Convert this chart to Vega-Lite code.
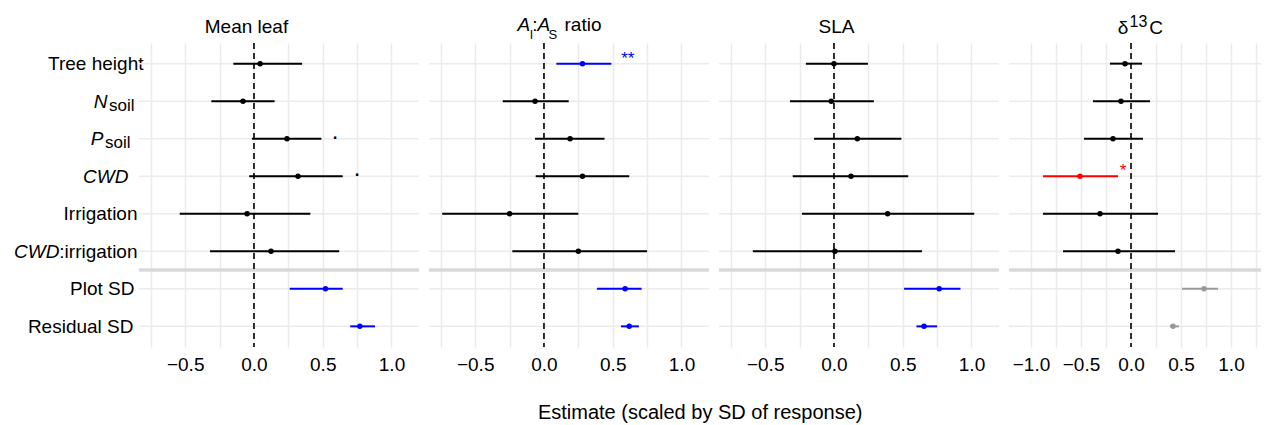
{
  "$schema": "https://vega.github.io/schema/vega-lite/v6.json",
  "padding": {"left": 13, "top": 13, "right": 2, "bottom": 2},
  "config": {"view": {"stroke": null}, "font": "Liberation Sans"},
  "title": {"text": "Estimate (scaled by SD of response)", "orient": "bottom", "anchor": "middle", "fontSize": 20, "fontWeight": "normal", "color": "black", "font": "Liberation Sans", "offset": 29, "dx": 62},
  "datasets": {
    "est": [
      {"panel": "Mean leaf", "term": "Tree height", "pos": 1, "est": 0.045, "lo": -0.15, "hi": 0.35, "sig": "none"},
      {"panel": "Mean leaf", "term": "N soil", "pos": 2, "est": -0.08, "lo": -0.31, "hi": 0.15, "sig": "none"},
      {"panel": "Mean leaf", "term": "P soil", "pos": 3, "est": 0.24, "lo": -0.015, "hi": 0.49, "sig": "none"},
      {"panel": "Mean leaf", "term": "CWD", "pos": 4, "est": 0.32, "lo": -0.035, "hi": 0.645, "sig": "none"},
      {"panel": "Mean leaf", "term": "Irrigation", "pos": 5, "est": -0.05, "lo": -0.54, "hi": 0.41, "sig": "none"},
      {"panel": "Mean leaf", "term": "CWD:irrigation", "pos": 6, "est": 0.124, "lo": -0.32, "hi": 0.62, "sig": "none"},
      {"panel": "Mean leaf", "term": "Plot SD", "pos": 7, "est": 0.52, "lo": 0.26, "hi": 0.645, "sig": "pos"},
      {"panel": "Mean leaf", "term": "Residual SD", "pos": 8, "est": 0.77, "lo": 0.70, "hi": 0.88, "sig": "pos"},
      {"panel": "AlAs", "term": "Tree height", "pos": 1, "est": 0.28, "lo": 0.09, "hi": 0.49, "sig": "pos"},
      {"panel": "AlAs", "term": "N soil", "pos": 2, "est": -0.065, "lo": -0.30, "hi": 0.18, "sig": "none"},
      {"panel": "AlAs", "term": "P soil", "pos": 3, "est": 0.19, "lo": -0.065, "hi": 0.44, "sig": "none"},
      {"panel": "AlAs", "term": "CWD", "pos": 4, "est": 0.28, "lo": -0.06, "hi": 0.62, "sig": "none"},
      {"panel": "AlAs", "term": "Irrigation", "pos": 5, "est": -0.25, "lo": -0.74, "hi": 0.25, "sig": "none"},
      {"panel": "AlAs", "term": "CWD:irrigation", "pos": 6, "est": 0.25, "lo": -0.23, "hi": 0.75, "sig": "none"},
      {"panel": "AlAs", "term": "Plot SD", "pos": 7, "est": 0.59, "lo": 0.385, "hi": 0.71, "sig": "pos"},
      {"panel": "AlAs", "term": "Residual SD", "pos": 8, "est": 0.62, "lo": 0.56, "hi": 0.69, "sig": "pos"},
      {"panel": "SLA", "term": "Tree height", "pos": 1, "est": 0.0, "lo": -0.204, "hi": 0.247, "sig": "none"},
      {"panel": "SLA", "term": "N soil", "pos": 2, "est": -0.02, "lo": -0.32, "hi": 0.29, "sig": "none"},
      {"panel": "SLA", "term": "P soil", "pos": 3, "est": 0.17, "lo": -0.145, "hi": 0.49, "sig": "none"},
      {"panel": "SLA", "term": "CWD", "pos": 4, "est": 0.124, "lo": -0.30, "hi": 0.54, "sig": "none"},
      {"panel": "SLA", "term": "Irrigation", "pos": 5, "est": 0.39, "lo": -0.233, "hi": 1.02, "sig": "none"},
      {"panel": "SLA", "term": "CWD:irrigation", "pos": 6, "est": 0.007, "lo": -0.59, "hi": 0.64, "sig": "none"},
      {"panel": "SLA", "term": "Plot SD", "pos": 7, "est": 0.765, "lo": 0.51, "hi": 0.92, "sig": "pos"},
      {"panel": "SLA", "term": "Residual SD", "pos": 8, "est": 0.655, "lo": 0.60, "hi": 0.75, "sig": "pos"},
      {"panel": "d13C", "term": "Tree height", "pos": 1, "est": -0.06, "lo": -0.21, "hi": 0.11, "sig": "none"},
      {"panel": "d13C", "term": "N soil", "pos": 2, "est": -0.10, "lo": -0.38, "hi": 0.19, "sig": "none"},
      {"panel": "d13C", "term": "P soil", "pos": 3, "est": -0.18, "lo": -0.47, "hi": 0.12, "sig": "none"},
      {"panel": "d13C", "term": "CWD", "pos": 4, "est": -0.51, "lo": -0.88, "hi": -0.13, "sig": "neg"},
      {"panel": "d13C", "term": "Irrigation", "pos": 5, "est": -0.31, "lo": -0.88, "hi": 0.27, "sig": "none"},
      {"panel": "d13C", "term": "CWD:irrigation", "pos": 6, "est": -0.13, "lo": -0.68, "hi": 0.44, "sig": "none"},
      {"panel": "d13C", "term": "Plot SD", "pos": 7, "est": 0.73, "lo": 0.51, "hi": 0.87, "sig": "na"},
      {"panel": "d13C", "term": "Residual SD", "pos": 8, "est": 0.42, "lo": 0.39, "hi": 0.48, "sig": "na"}
    ],
    "markers": [
      {"panel": "Mean leaf", "pos": 3, "mx": 0.59, "label": ".", "sig": "none"},
      {"panel": "Mean leaf", "pos": 4, "mx": 0.75, "label": ".", "sig": "none"},
      {"panel": "AlAs", "pos": 1, "mx": 0.61, "label": "**", "sig": "pos"},
      {"panel": "d13C", "pos": 4, "mx": -0.08, "label": "*", "sig": "neg"}
    ]
  },
  "bounds": "full",
  "spacing": 6,
  "hconcat": [
    {
      "width": 280, "height": 304,
      "resolve": {"axis": {"x": "independent", "y": "independent"}},
      "layer": [
        {"data": {"name": "est"}, "transform": [{"filter": "datum.panel == 'Mean leaf'"}],
         "mark": {"type": "rule", "color": "#EBEBEB", "strokeWidth": 1.5},
         "encoding": {"y": {"field": "pos", "type": "quantitative", "scale": {"domain": [0.45, 8.55], "reverse": true, "nice": false, "zero": false},
           "axis": {"orient": "left", "values": [1, 2, 2.001, 3, 3.001, 4, 5, 6, 6.001, 7, 8], "title": null, "grid": false, "ticks": false, "tickSize": 0, "domain": false,
             "labelFont": "Liberation Sans", "labelColor": "black", "labelAlign": "right", "labelBaseline": "middle", "labelOverlap": false, "labelBound": false, "labelFlush": false,
             "labelExpr": "datum.value == 1 ? 'Tree height' : datum.value == 2 ? 'N' : datum.value == 3 ? 'P' : datum.value == 4 ? 'CWD' : datum.value == 5 ? 'Irrigation' : datum.value == 6 ? 'CWD' : datum.value == 7 ? 'Plot SD' : datum.value == 8 ? 'Residual SD' : datum.value < 5 ? 'soil' : ':irrigation'",
             "labelFontStyle": {"condition": {"test": "datum.value == 2 || datum.value == 3 || datum.value == 4 || datum.value == 6", "value": "italic"}, "value": "normal"},
             "labelFontSize": {"condition": {"test": "datum.value == 2.001 || datum.value == 3.001", "value": 17}, "value": 19},
             "labelOffset": {"condition": {"test": "datum.value == 2.001 || datum.value == 3.001", "value": 4}, "value": 0},
             "labelPadding": {"condition": [
               {"test": "datum.value == 1", "value": -4},
               {"test": "datum.value == 2", "value": 32},
               {"test": "datum.value == 2.001", "value": 5},
               {"test": "datum.value == 3", "value": 36},
               {"test": "datum.value == 3.001", "value": 9},
               {"test": "datum.value == 4", "value": 11},
               {"test": "datum.value == 5", "value": 2},
               {"test": "datum.value == 6", "value": 80},
               {"test": "datum.value == 6.001", "value": 2},
               {"test": "datum.value == 7", "value": 5}
             ], "value": 6}
           }}}},
        {"data": {"values": [{}]},
         "mark": {"type": "rule", "color": "#D9D9D9", "strokeWidth": 3.5},
         "encoding": {"y": {"datum": 6.5, "type": "quantitative", "scale": {"domain": [0.45, 8.55], "reverse": true, "nice": false, "zero": false}, "axis": null}}},
        {"data": {"values": [{}]},
         "mark": {"type": "rule", "color": "black", "strokeWidth": 1.6, "strokeDash": [6, 4]},
         "encoding": {"x": {"datum": 0, "type": "quantitative", "scale": {"domain": [-0.836, 1.2], "nice": false, "zero": false},
           "axis": {"orient": "bottom", "values": [-0.75, -0.5, -0.25, 0, 0.25, 0.5, 0.75, 1], "labelExpr": "abs(datum.value * 2 - round(datum.value * 2)) < 0.001 ? format(datum.value, '.1f') : ''",
             "grid": true, "gridColor": "#EBEBEB", "gridWidth": 1.5, "ticks": false, "tickSize": 0, "domain": false, "title": null,
             "labelFont": "Liberation Sans", "labelFontSize": 19, "labelColor": "black", "labelPadding": 8, "labelOverlap": false, "labelFlush": false, "labelBound": false}}}},
        {"data": {"name": "est"}, "transform": [{"filter": "datum.panel == 'Mean leaf'"}],
         "mark": {"type": "rule", "strokeWidth": 2},
         "encoding": {
           "x": {"field": "lo", "type": "quantitative", "scale": {"domain": [-0.836, 1.2], "nice": false, "zero": false},
             "axis": {"orient": "top", "values": [-0.058], "labelExpr": "'Mean leaf'", "title": null, "grid": false, "ticks": false, "tickSize": 0, "domain": false,
               "labelFont": "Liberation Sans", "labelFontSize": 19, "labelColor": "black", "labelBaseline": "alphabetic", "labelAlign": "center", "labelPadding": 11, "labelOverlap": false, "labelFlush": false, "labelBound": false}},
           "x2": {"field": "hi"},
           "y": {"field": "pos", "type": "quantitative", "scale": {"domain": [0.45, 8.55], "reverse": true, "nice": false, "zero": false}, "axis": null},
           "color": {"field": "sig", "type": "nominal", "scale": {"domain": ["none", "pos", "neg", "na"], "range": ["#000000", "#0000FF", "#FF0000", "#999999"]}, "legend": null}}},
        {"data": {"name": "est"}, "transform": [{"filter": "datum.panel == 'Mean leaf'"}],
         "mark": {"type": "point", "filled": true, "size": 30, "opacity": 1},
         "encoding": {
           "x": {"field": "est", "type": "quantitative", "scale": {"domain": [-0.836, 1.2], "nice": false, "zero": false}, "axis": null},
           "y": {"field": "pos", "type": "quantitative", "scale": {"domain": [0.45, 8.55], "reverse": true, "nice": false, "zero": false}, "axis": null},
           "color": {"field": "sig", "type": "nominal", "scale": {"domain": ["none", "pos", "neg", "na"], "range": ["#000000", "#0000FF", "#FF0000", "#999999"]}, "legend": null}}},
        {"data": {"name": "markers"}, "transform": [{"filter": "datum.panel == 'Mean leaf'"}],
         "mark": {"type": "text", "fontSize": 24, "baseline": "alphabetic", "align": "center", "font": "Liberation Sans"},
         "encoding": {
           "x": {"field": "mx", "type": "quantitative", "scale": {"domain": [-0.836, 1.2], "nice": false, "zero": false}, "axis": null},
           "y": {"field": "pos", "type": "quantitative", "scale": {"domain": [0.45, 8.55], "reverse": true, "nice": false, "zero": false}, "axis": null},
           "text": {"field": "label"},
           "color": {"field": "sig", "type": "nominal", "scale": {"domain": ["none", "pos", "neg", "na"], "range": ["#000000", "#0000FF", "#FF0000", "#999999"]}, "legend": null}}}
      ]
    },
    {
      "width": 280, "height": 304,
      "resolve": {"axis": {"x": "independent", "y": "independent"}},
      "layer": [
        {"data": {"name": "est"}, "transform": [{"filter": "datum.panel == 'AlAs'"}],
         "mark": {"type": "rule", "color": "#EBEBEB", "strokeWidth": 1.5},
         "encoding": {"y": {"field": "pos", "type": "quantitative", "scale": {"domain": [0.45, 8.55], "reverse": true, "nice": false, "zero": false}, "axis": null}}},
        {"data": {"values": [{}]},
         "mark": {"type": "rule", "color": "#D9D9D9", "strokeWidth": 3.5},
         "encoding": {"y": {"datum": 6.5, "type": "quantitative", "scale": {"domain": [0.45, 8.55], "reverse": true, "nice": false, "zero": false}, "axis": null}}},
        {"data": {"values": [{}]},
         "mark": {"type": "rule", "color": "black", "strokeWidth": 1.6, "strokeDash": [6, 4]},
         "encoding": {"x": {"datum": 0, "type": "quantitative", "scale": {"domain": [-0.836, 1.2], "nice": false, "zero": false},
           "axis": {"orient": "bottom", "values": [-0.75, -0.5, -0.25, 0, 0.25, 0.5, 0.75, 1], "labelExpr": "abs(datum.value * 2 - round(datum.value * 2)) < 0.001 ? format(datum.value, '.1f') : ''",
             "grid": true, "gridColor": "#EBEBEB", "gridWidth": 1.5, "ticks": false, "tickSize": 0, "domain": false, "title": null,
             "labelFont": "Liberation Sans", "labelFontSize": 19, "labelColor": "black", "labelPadding": 8, "labelOverlap": false, "labelFlush": false, "labelBound": false}}}},
        {"data": {"name": "est"}, "transform": [{"filter": "datum.panel == 'AlAs'"}],
         "mark": {"type": "rule", "strokeWidth": 2},
         "encoding": {
           "x": {"field": "lo", "type": "quantitative", "scale": {"domain": [-0.836, 1.2], "nice": false, "zero": false},
             "axis": {"orient": "top", "values": [-0.15, -0.095, -0.07, -0.005, 0.06, 0.28],
               "labelExpr": "datum.value < -0.12 ? 'A' : datum.value < -0.08 ? 'l' : datum.value < -0.04 ? ':' : datum.value < 0.03 ? 'A' : datum.value < 0.15 ? 'S' : 'ratio'",
               "title": null, "grid": false, "ticks": false, "tickSize": 0, "domain": false,
               "labelFont": "Liberation Sans", "labelColor": "black", "labelBaseline": "alphabetic", "labelAlign": "center", "labelOverlap": false, "labelFlush": false, "labelBound": false,
               "labelFontStyle": {"condition": {"test": "datum.value < -0.12 || (datum.value > -0.04 && datum.value < 0.03)", "value": "italic"}, "value": "normal"},
               "labelFontSize": {"condition": {"test": "(datum.value > -0.12 && datum.value < -0.08) || (datum.value > 0.03 && datum.value < 0.15)", "value": 13}, "value": 19},
               "labelPadding": {"condition": {"test": "(datum.value > -0.12 && datum.value < -0.08) || (datum.value > 0.03 && datum.value < 0.15)", "value": 5}, "value": 13}}},
           "x2": {"field": "hi"},
           "y": {"field": "pos", "type": "quantitative", "scale": {"domain": [0.45, 8.55], "reverse": true, "nice": false, "zero": false}, "axis": null},
           "color": {"field": "sig", "type": "nominal", "scale": {"domain": ["none", "pos", "neg", "na"], "range": ["#000000", "#0000FF", "#FF0000", "#999999"]}, "legend": null}}},
        {"data": {"name": "est"}, "transform": [{"filter": "datum.panel == 'AlAs'"}],
         "mark": {"type": "point", "filled": true, "size": 30, "opacity": 1},
         "encoding": {
           "x": {"field": "est", "type": "quantitative", "scale": {"domain": [-0.836, 1.2], "nice": false, "zero": false}, "axis": null},
           "y": {"field": "pos", "type": "quantitative", "scale": {"domain": [0.45, 8.55], "reverse": true, "nice": false, "zero": false}, "axis": null},
           "color": {"field": "sig", "type": "nominal", "scale": {"domain": ["none", "pos", "neg", "na"], "range": ["#000000", "#0000FF", "#FF0000", "#999999"]}, "legend": null}}},
        {"data": {"name": "markers"}, "transform": [{"filter": "datum.panel == 'AlAs'"}],
         "mark": {"type": "text", "fontSize": 17, "baseline": "alphabetic", "align": "center", "font": "Liberation Sans"},
         "encoding": {
           "x": {"field": "mx", "type": "quantitative", "scale": {"domain": [-0.836, 1.2], "nice": false, "zero": false}, "axis": null},
           "y": {"field": "pos", "type": "quantitative", "scale": {"domain": [0.45, 8.55], "reverse": true, "nice": false, "zero": false}, "axis": null},
           "text": {"field": "label"},
           "color": {"field": "sig", "type": "nominal", "scale": {"domain": ["none", "pos", "neg", "na"], "range": ["#000000", "#0000FF", "#FF0000", "#999999"]}, "legend": null}}}
      ]
    },
    {
      "width": 280, "height": 304,
      "resolve": {"axis": {"x": "independent", "y": "independent"}},
      "layer": [
        {"data": {"name": "est"}, "transform": [{"filter": "datum.panel == 'SLA'"}],
         "mark": {"type": "rule", "color": "#EBEBEB", "strokeWidth": 1.5},
         "encoding": {"y": {"field": "pos", "type": "quantitative", "scale": {"domain": [0.45, 8.55], "reverse": true, "nice": false, "zero": false}, "axis": null}}},
        {"data": {"values": [{}]},
         "mark": {"type": "rule", "color": "#D9D9D9", "strokeWidth": 3.5},
         "encoding": {"y": {"datum": 6.5, "type": "quantitative", "scale": {"domain": [0.45, 8.55], "reverse": true, "nice": false, "zero": false}, "axis": null}}},
        {"data": {"values": [{}]},
         "mark": {"type": "rule", "color": "black", "strokeWidth": 1.6, "strokeDash": [6, 4]},
         "encoding": {"x": {"datum": 0, "type": "quantitative", "scale": {"domain": [-0.836, 1.2], "nice": false, "zero": false},
           "axis": {"orient": "bottom", "values": [-0.75, -0.5, -0.25, 0, 0.25, 0.5, 0.75, 1], "labelExpr": "abs(datum.value * 2 - round(datum.value * 2)) < 0.001 ? format(datum.value, '.1f') : ''",
             "grid": true, "gridColor": "#EBEBEB", "gridWidth": 1.5, "ticks": false, "tickSize": 0, "domain": false, "title": null,
             "labelFont": "Liberation Sans", "labelFontSize": 19, "labelColor": "black", "labelPadding": 8, "labelOverlap": false, "labelFlush": false, "labelBound": false}}}},
        {"data": {"name": "est"}, "transform": [{"filter": "datum.panel == 'SLA'"}],
         "mark": {"type": "rule", "strokeWidth": 2},
         "encoding": {
           "x": {"field": "lo", "type": "quantitative", "scale": {"domain": [-0.836, 1.2], "nice": false, "zero": false},
             "axis": {"orient": "top", "values": [0.015], "labelExpr": "'SLA'", "title": null, "grid": false, "ticks": false, "tickSize": 0, "domain": false,
               "labelFont": "Liberation Sans", "labelFontSize": 19, "labelColor": "black", "labelBaseline": "alphabetic", "labelAlign": "center", "labelPadding": 11, "labelOverlap": false, "labelFlush": false, "labelBound": false}},
           "x2": {"field": "hi"},
           "y": {"field": "pos", "type": "quantitative", "scale": {"domain": [0.45, 8.55], "reverse": true, "nice": false, "zero": false}, "axis": null},
           "color": {"field": "sig", "type": "nominal", "scale": {"domain": ["none", "pos", "neg", "na"], "range": ["#000000", "#0000FF", "#FF0000", "#999999"]}, "legend": null}}},
        {"data": {"name": "est"}, "transform": [{"filter": "datum.panel == 'SLA'"}],
         "mark": {"type": "point", "filled": true, "size": 30, "opacity": 1},
         "encoding": {
           "x": {"field": "est", "type": "quantitative", "scale": {"domain": [-0.836, 1.2], "nice": false, "zero": false}, "axis": null},
           "y": {"field": "pos", "type": "quantitative", "scale": {"domain": [0.45, 8.55], "reverse": true, "nice": false, "zero": false}, "axis": null},
           "color": {"field": "sig", "type": "nominal", "scale": {"domain": ["none", "pos", "neg", "na"], "range": ["#000000", "#0000FF", "#FF0000", "#999999"]}, "legend": null}}}
      ]
    },
    {
      "width": 252, "height": 304,
      "resolve": {"axis": {"x": "independent", "y": "independent"}},
      "layer": [
        {"data": {"name": "est"}, "transform": [{"filter": "datum.panel == 'd13C'"}],
         "mark": {"type": "rule", "color": "#EBEBEB", "strokeWidth": 1.5},
         "encoding": {"y": {"field": "pos", "type": "quantitative", "scale": {"domain": [0.45, 8.55], "reverse": true, "nice": false, "zero": false}, "axis": null}}},
        {"data": {"values": [{}]},
         "mark": {"type": "rule", "color": "#D9D9D9", "strokeWidth": 3.5},
         "encoding": {"y": {"datum": 6.5, "type": "quantitative", "scale": {"domain": [0.45, 8.55], "reverse": true, "nice": false, "zero": false}, "axis": null}}},
        {"data": {"values": [{}]},
         "mark": {"type": "rule", "color": "black", "strokeWidth": 1.6, "strokeDash": [6, 4]},
         "encoding": {"x": {"datum": 0, "type": "quantitative", "scale": {"domain": [-1.22, 1.3], "nice": false, "zero": false},
           "axis": {"orient": "bottom", "values": [-1, -0.75, -0.5, -0.25, 0, 0.25, 0.5, 0.75, 1, 1.25], "labelExpr": "abs(datum.value * 2 - round(datum.value * 2)) < 0.001 ? format(datum.value, '.1f') : ''",
             "grid": true, "gridColor": "#EBEBEB", "gridWidth": 1.5, "ticks": false, "tickSize": 0, "domain": false, "title": null,
             "labelFont": "Liberation Sans", "labelFontSize": 19, "labelColor": "black", "labelPadding": 8, "labelOverlap": false, "labelFlush": false, "labelBound": false}}}},
        {"data": {"name": "est"}, "transform": [{"filter": "datum.panel == 'd13C'"}],
         "mark": {"type": "rule", "strokeWidth": 2},
         "encoding": {
           "x": {"field": "lo", "type": "quantitative", "scale": {"domain": [-1.22, 1.3], "nice": false, "zero": false},
             "axis": {"orient": "top", "values": [-0.085, 0.07, 0.245],
               "labelExpr": "datum.value < 0 ? 'δ' : datum.value < 0.2 ? '13' : 'C'",
               "title": null, "grid": false, "ticks": false, "tickSize": 0, "domain": false,
               "labelFont": "Liberation Sans", "labelColor": "black", "labelBaseline": "alphabetic", "labelAlign": "center", "labelOverlap": false, "labelFlush": false, "labelBound": false,
               "labelFontSize": {"condition": {"test": "datum.value > 0 && datum.value < 0.2", "value": 16}, "value": 19},
               "labelPadding": {"condition": {"test": "datum.value > 0 && datum.value < 0.2", "value": 17}, "value": 10}}},
           "x2": {"field": "hi"},
           "y": {"field": "pos", "type": "quantitative", "scale": {"domain": [0.45, 8.55], "reverse": true, "nice": false, "zero": false}, "axis": null},
           "color": {"field": "sig", "type": "nominal", "scale": {"domain": ["none", "pos", "neg", "na"], "range": ["#000000", "#0000FF", "#FF0000", "#999999"]}, "legend": null}}},
        {"data": {"name": "est"}, "transform": [{"filter": "datum.panel == 'd13C'"}],
         "mark": {"type": "point", "filled": true, "size": 30, "opacity": 1},
         "encoding": {
           "x": {"field": "est", "type": "quantitative", "scale": {"domain": [-1.22, 1.3], "nice": false, "zero": false}, "axis": null},
           "y": {"field": "pos", "type": "quantitative", "scale": {"domain": [0.45, 8.55], "reverse": true, "nice": false, "zero": false}, "axis": null},
           "color": {"field": "sig", "type": "nominal", "scale": {"domain": ["none", "pos", "neg", "na"], "range": ["#000000", "#0000FF", "#FF0000", "#999999"]}, "legend": null}}},
        {"data": {"name": "markers"}, "transform": [{"filter": "datum.panel == 'd13C'"}],
         "mark": {"type": "text", "fontSize": 17, "baseline": "alphabetic", "align": "center", "font": "Liberation Sans"},
         "encoding": {
           "x": {"field": "mx", "type": "quantitative", "scale": {"domain": [-1.22, 1.3], "nice": false, "zero": false}, "axis": null},
           "y": {"field": "pos", "type": "quantitative", "scale": {"domain": [0.45, 8.55], "reverse": true, "nice": false, "zero": false}, "axis": null},
           "text": {"field": "label"},
           "color": {"field": "sig", "type": "nominal", "scale": {"domain": ["none", "pos", "neg", "na"], "range": ["#000000", "#0000FF", "#FF0000", "#999999"]}, "legend": null}}}
      ]
    }
  ]
}
